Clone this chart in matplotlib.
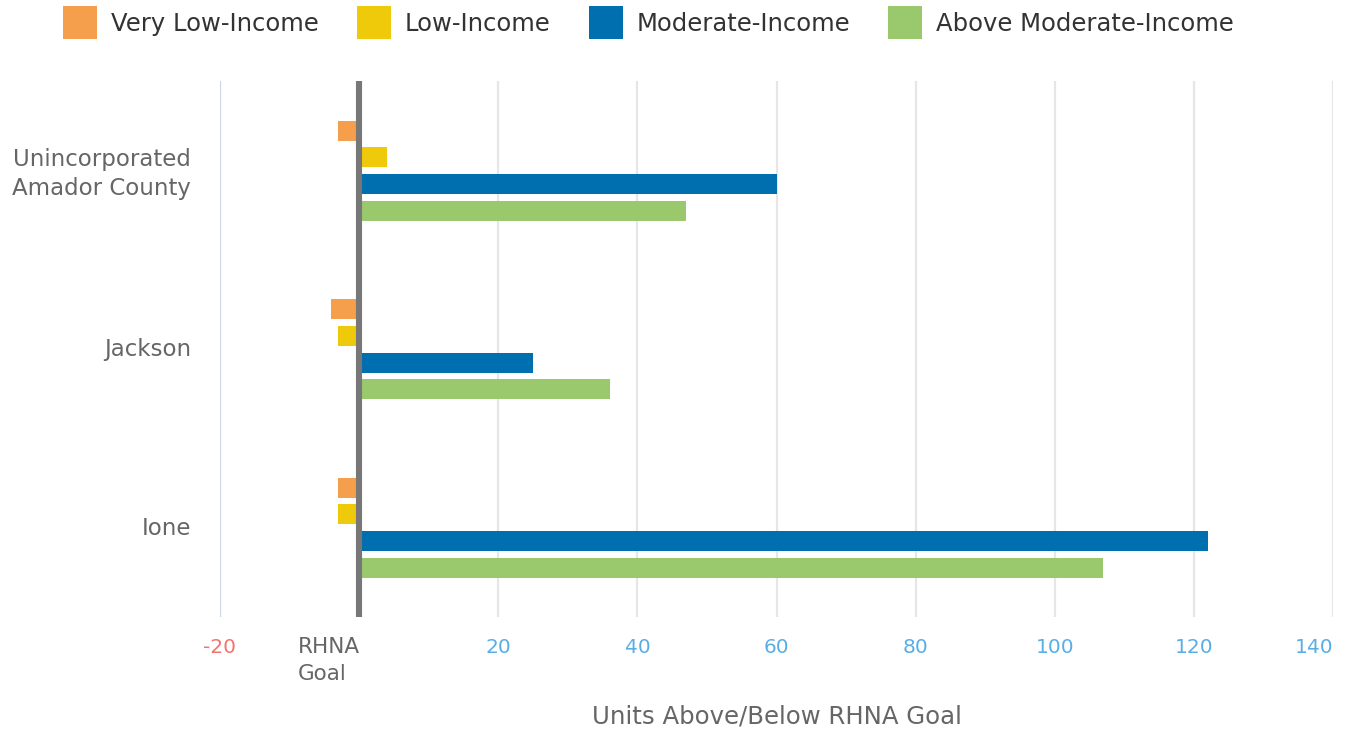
import matplotlib
matplotlib.use("Agg")
import matplotlib.pyplot as plt
import matplotlib.transforms as mtransforms
import numpy as np

plt.rcParams['font.family'] = ['DejaVu Sans']

categories = ["Unincorporated\nAmador County", "Jackson", "Ione"]
series_names = ["Very Low-Income", "Low-Income", "Moderate-Income", "Above Moderate-Income"]
very_low = [-3, -4, -3]
low = [4, -3, -3]
moderate = [60, 25, 122]
above_moderate = [47, 36, 107]
x_ticks = [-20, 0, 20, 40, 60, 80, 100, 120, 140]
x_ticklabels = ["-20", "RHNA\nGoal", "20", "40", "60", "80", "100", "120", "140"]
colors = ["#F59E4C", "#EFCA0B", "#006FB0", "#99C96C"]

series = [very_low, low, moderate, above_moderate]

fig = plt.figure(figsize=(13.46, 7.29), dpi=100)
ax = fig.add_axes([220/1346, 1 - 617/729, (1333 - 220)/1346, (617 - 81)/729])

y = np.arange(len(categories))
offsets = [-0.222, -0.074, 0.077, 0.226]
bar_h = 0.112
handles = []
for vals, off, col, name in zip(series, offsets, colors, series_names):
    h = ax.barh(y + off, vals, height=bar_h, color=col, label=name, zorder=2, linewidth=0)
    handles.append(h)

ax.set_xlim(-20, 140)
ax.set_ylim(len(categories) - 0.5, -0.5)

# grid lines
for t in x_ticks:
    if t == -20:
        ax.axvline(t, color="#CCD6EB", lw=1.6, zorder=1)
    elif t == 0:
        ax.axvline(t, color="#777777", lw=4.4, zorder=3)
    else:
        ax.axvline(t, color="#E6E6E6", lw=1.6, zorder=1)

for s in ax.spines.values():
    s.set_visible(False)

ax.set_xticks(x_ticks)
ax.set_xticklabels(x_ticklabels, fontsize=14.5)
ax.tick_params(axis='x', length=0, pad=15)
for lbl, t in zip(ax.get_xticklabels(), x_ticks):
    if t == -20:
        lbl.set_color("#F07470")
    elif t == 0:
        lbl.set_color("#666666")
        lbl.set_fontsize(15.5)
        lbl.set_horizontalalignment("left")
        lbl.set_multialignment("left")
        lbl.set_verticalalignment("top")
        lbl.set_linespacing(1.45)
        lbl.set_transform(lbl.get_transform() + mtransforms.ScaledTranslation(-61/100, 1/100, fig.dpi_scale_trans))
    elif t == 140:
        lbl.set_color("#5AAEE6")
        lbl.set_horizontalalignment("right")
    else:
        lbl.set_color("#5AAEE6")

ax.set_yticks(y)
ax.set_yticklabels(categories, fontsize=16.5, color="#666666", linespacing=1.35)
ax.tick_params(axis='y', length=0, pad=21)
for lbl in ax.get_yticklabels():
    lbl.set_transform(lbl.get_transform() + mtransforms.ScaledTranslation(0, 2/100, fig.dpi_scale_trans))

ax.set_xlabel("Units Above/Below RHNA Goal", fontsize=17.6, color="#666666", labelpad=15)

leg = fig.legend(handles=handles, labels=series_names, loc="upper left",
                 bbox_to_anchor=(63/1346, 1 - 6/729), ncol=4, frameon=False,
                 fontsize=17.5, handlelength=1.4, handleheight=1.74,
                 handletextpad=0.58, columnspacing=1.56, borderpad=0, borderaxespad=0)
for t in leg.get_texts():
    t.set_color("#333333")

fig.savefig("out.png", dpi=100)
